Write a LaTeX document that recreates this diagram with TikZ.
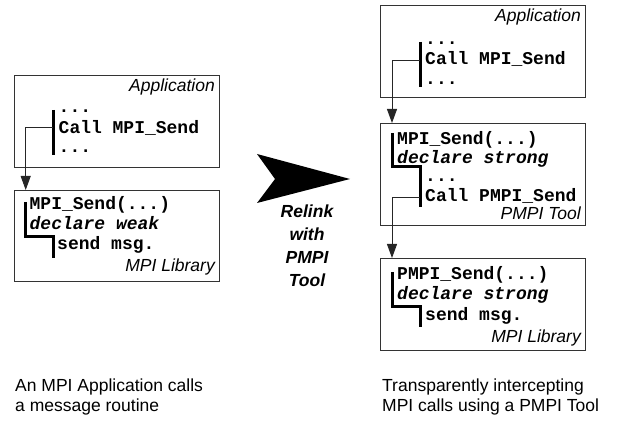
\documentclass[tikz,border=0pt]{standalone}
\usepackage{fontspec}
\setmainfont{Liberation Sans}
\newfontfamily\codefont{Liberation Mono}
\usetikzlibrary{arrows.meta}
\begin{document}
\begin{tikzpicture}[x=1pt,y=-1pt,
  box/.style={draw=black!80, line width=0.8pt, anchor=north west, inner sep=0pt},
  code/.style={anchor=base west, inner sep=0pt, font=\codefont\bfseries\fontsize{18}{20}\selectfont},
  codeit/.style={anchor=base west, inner sep=0pt, font=\codefont\bfseries\itshape\fontsize{18}{20}\selectfont},
  lbl/.style={anchor=base east, inner sep=0pt, font=\itshape\fontsize{17.5}{21}\selectfont},
  capt/.style={anchor=base west, inner sep=0pt, font=\fontsize{17.5}{21}\selectfont},
  rel/.style={anchor=base, inner sep=0pt, font=\bfseries\itshape\fontsize{17.5}{21}\selectfont},
  bar/.style={line width=3pt, line join=miter},
  call/.style={draw=black!85, line width=0.9pt, -{Triangle[length=14pt,width=10pt]}}
]
\useasboundingbox (0,0) rectangle (619,422);

% ---------- left: application box ----------
\node[box, minimum width=205.5pt, minimum height=92pt] (A1) at (13.5,75) {};
\node[lbl] (A1l) at (215,92) {Application};
\node[code] (A1a) at (58.5,113) {...};
\node[code] (A1b) at (58.5,134) {Call MPI\_Send};
\node[code] (A1c) at (58.5,153) {...};
\draw[bar] (53,110) -- (53,155);
\coordinate (A1o) at (53,127);

% ---------- left: MPI library ----------
\node[box, minimum width=205.5pt, minimum height=91pt] (L1) at (13.5,190) {};
\coordinate (L1in) at (25.7,190);
\node[code] (L1a) at (29.5,210) {MPI\_Send(...)};
\node[codeit] (L1b) at (29.5,230) {declare weak};
\node[code] (L1c) at (57,250) {send msg.};
\node[lbl] (L1l) at (215,272) {MPI Library};
\draw[bar] (25.5,202) -- (25.5,237) -- (53,237) -- (53,258);

\draw[call] (A1o) -| (L1in);

% ---------- right: application box ----------
\node[box, minimum width=205pt, minimum height=92pt] (R1) at (380,5) {};
\node[lbl] (R1l) at (581,22) {Application};
\node[code] (R1a) at (425,45) {...};
\node[code] (R1b) at (425,65) {Call MPI\_Send};
\node[code] (R1c) at (425,85) {...};
\draw[bar] (420,42) -- (420,87);
\coordinate (R1o) at (420,60);

% ---------- right: PMPI tool ----------
\node[box, minimum width=205pt, minimum height=102pt] (R2) at (380,123) {};
\coordinate (R2in) at (392,123);
\node[code] (R2a) at (397,145) {MPI\_Send(...)};
\node[codeit] (R2b) at (397,164) {declare strong};
\node[code] (R2c) at (425,182) {...};
\node[code] (R2d) at (425,202) {Call PMPI\_Send};
\node[lbl] (R2l) at (581,220) {PMPI Tool};
\draw[bar] (392,133) -- (392,167) -- (420,167) -- (420,207);
\coordinate (R2o) at (420,197);

\draw[call] (R1o) -| (R2in);

% ---------- right: MPI library ----------
\node[box, minimum width=205pt, minimum height=92pt] (R3) at (380,258) {};
\coordinate (R3in) at (392,258);
\node[code] (R3a) at (397,280) {PMPI\_Send(...)};
\node[codeit] (R3b) at (397,300) {declare strong};
\node[code] (R3c) at (425,320) {send msg.};
\node[lbl] (R3l) at (581,342) {MPI Library};
\draw[bar] (392,272) -- (392,307) -- (420,307) -- (420,327);

\draw[call] (R2o) -| (R3in);

% ---------- big arrow ----------
\fill[black] (257,154) -- (350,179) -- (257,203) -- (275,179) -- cycle;
\node[rel] (t1) at (307,218) {Relink};
\node[rel] (t2) at (307,241) {with};
\node[rel] (t3) at (307,264) {PMPI};
\node[rel] (t4) at (307,287) {Tool};

% ---------- captions ----------
\node[capt] (c1) at (15,391) {An MPI Application calls};
\node[capt] (c2) at (15,411) {a message routine};
\node[capt] (c3) at (382,391) {Transparently intercepting};
\node[capt] (c4) at (382,411) {MPI calls using a PMPI Tool};
\end{tikzpicture}
\end{document}
